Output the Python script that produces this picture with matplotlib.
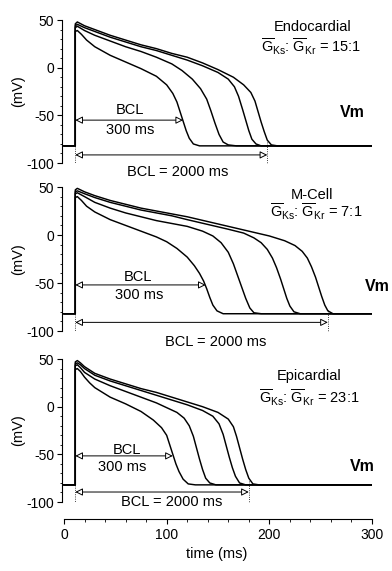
import matplotlib
matplotlib.use("Agg")
import matplotlib.pyplot as plt
from matplotlib.ticker import MultipleLocator

plt.rcParams["font.family"] = ["Liberation Sans", "DejaVu Sans"]
plt.rcParams["mathtext.fontset"] = "custom"
plt.rcParams["mathtext.rm"] = "Liberation Sans"
plt.rcParams["mathtext.it"] = "Liberation Sans"
plt.rcParams["axes.unicode_minus"] = False

REST = -82
T_STIM = 11

# four traces per panel, shortest APD (BCL 300 ms) first, longest (BCL 2000 ms) last
endo_t = [
    [0, 11, 11, 13, 17, 22, 30, 45, 60, 75, 90, 100, 106, 110, 113, 116, 119, 122, 126, 132, 300],
    [0, 11, 11, 13, 20, 30, 45, 60, 75, 90, 105, 115, 125, 133, 139, 143, 147, 151, 155, 160, 168, 300],
    [0, 11, 11, 13, 20, 30, 45, 60, 75, 90, 105, 120, 135, 150, 160, 166, 170, 174, 177, 180, 183, 187, 192, 300],
    [0, 11, 11, 13, 20, 30, 45, 60, 75, 90, 105, 120, 135, 150, 165, 175, 182, 186, 189, 192, 195, 198, 202, 208, 300],
]
endo_v = [
    [-82, -82, 38, 39, 35, 29, 22, 13, 6, -1, -9, -18, -27, -36, -46, -56, -66, -74, -80, -82, -82],
    [-82, -82, 42, 43.5, 39, 34, 28, 22, 17, 11, 4, -3, -12, -22, -33, -45, -58, -70, -78, -81, -82, -82],
    [-82, -82, 44, 45.5, 42, 38, 32, 27, 22, 18, 13, 8, 2, -5, -12, -20, -30, -44, -55, -66, -75, -80, -82, -82],
    [-82, -82, 46, 48, 44, 40, 34, 29, 24, 20, 15, 11, 5, -2, -10, -18, -26, -35, -46, -57, -67, -76, -81, -82, -82],
]

mcell_t = [
    [0, 11, 11, 13, 17, 22, 30, 45, 60, 75, 90, 100, 110, 120, 127, 132, 136, 139, 142, 145, 149, 155, 300],
    [0, 11, 11, 13, 20, 30, 45, 60, 75, 90, 105, 120, 135, 145, 153, 160, 165, 169, 173, 177, 181, 185, 192, 300],
    [0, 11, 11, 13, 20, 30, 45, 60, 75, 90, 105, 120, 140, 160, 175, 185, 192, 198, 203, 207, 211, 214, 217, 220, 224, 230, 300],
    [0, 11, 11, 13, 20, 30, 45, 60, 75, 90, 105, 120, 140, 160, 180, 200, 215, 225, 232, 237, 241, 245, 248, 251, 254, 257, 262, 300],
]
mcell_v = [
    [-82, -82, 39, 40, 36, 30, 24, 16, 10, 4, -2, -7, -14, -23, -32, -40, -48, -56, -65, -73, -79, -82, -82],
    [-82, -82, 43, 44, 40, 34, 28, 23, 19, 15, 12, 9, 4, -1, -8, -18, -30, -42, -54, -66, -76, -81, -82, -82],
    [-82, -82, 45, 46, 43, 39, 34, 30, 26, 23, 20, 16, 11, 6, 2, -3, -8, -15, -24, -34, -46, -56, -66, -74, -80, -82, -82],
    [-82, -82, 47, 48.6, 45, 41, 36, 32, 28, 25, 22, 19, 14, 9, 4, -1, -6, -11, -17, -24, -33, -44, -54, -64, -73, -79, -82, -82],
]

epi_t = [
    [0, 11, 11, 13, 16, 20, 25, 30, 45, 60, 75, 87, 95, 100, 103, 106, 109, 112, 116, 121, 128, 300],
    [0, 11, 11, 13, 16, 20, 30, 45, 60, 75, 90, 100, 110, 117, 122, 126, 129, 132, 135, 138, 142, 148, 300],
    [0, 11, 11, 13, 16, 20, 30, 45, 60, 75, 90, 105, 120, 135, 145, 151, 155, 158, 161, 164, 167, 171, 177, 300],
    [0, 11, 11, 13, 16, 20, 30, 45, 60, 75, 90, 105, 120, 135, 150, 160, 165, 168, 171, 174, 177, 180, 184, 190, 300],
]
epi_v = [
    [-82, -82, 39, 40, 37, 31, 25, 20, 10, 3, -5, -14, -22, -30, -40, -50, -60, -68, -76, -81, -82, -82],
    [-82, -82, 43, 44, 41, 36, 29, 22, 16, 10, 4, -1, -6, -12, -20, -31, -43, -55, -66, -75, -80, -82, -82],
    [-82, -82, 45, 46, 44, 40, 33, 27, 22, 17, 12, 7, 2, -4, -10, -18, -29, -41, -53, -64, -73, -80, -82, -82],
    [-82, -82, 47, 48.4, 46, 42, 35, 29, 24, 19, 15, 10, 5, 0, -6, -13, -21, -31, -43, -55, -66, -75, -81, -82, -82],
]

names = ["Endocardial", "M-Cell", "Epicardial"]
ratios = ["15:1", "7:1", "23:1"]
bcl300_end = [116, 138, 106]
bcl2000_end = [198, 257, 180]

# layout per panel (figure fractions) and annotation spots (data coords)
rects = [
    [0.158, 0.7145, 0.791, 0.2504],
    [0.158, 0.4203, 0.791, 0.2522],
    [0.158, 0.1208, 0.791, 0.2504],
]
name_xy = [(242, 42.5), (242, 41.5), (239, 32.5)]
ratio_xy = [(241, 21.5), (246, 24), (239, 9.5)]
vm_xy = [(281, -47.5), (305, -54), (291, -63)]
bcl_xy = [(64, -44), (72, -44), (61, -45)]
ms_xy = [(64, -65), (73, -62.5), (57, -63)]
bcl2000_xy = [(111, -109), (148, -111), (105, -100)]
arrow300_y = [-55, -52, -51.6]
arrow2000_y = [-91.5, -91, -89.5]

fig = plt.figure(figsize=(3.92, 5.71), dpi=100)

for i, (ts, vs) in enumerate([(endo_t, endo_v), (mcell_t, mcell_v), (epi_t, epi_v)]):
    ax = fig.add_axes(rects[i])
    for t, v in zip(ts, vs):
        ax.plot(t, v, color="black", lw=1.05, solid_joinstyle="round")

    ax.set_xlim(-2, 300)
    ax.set_ylim(-100, 50)
    ax.spines["top"].set_visible(False)
    ax.spines["right"].set_visible(False)
    ax.set_yticks([-100, -50, 0, 50])
    ax.yaxis.set_minor_locator(MultipleLocator(10))
    ax.tick_params(axis="y", which="major", length=3.5, width=0.8, labelsize=10, pad=2)
    ax.tick_params(axis="y", which="minor", length=1.8, width=0.6)
    ax.spines["left"].set_linewidth(0.8)
    ax.set_ylabel("(mV)", fontsize=10.5, labelpad=1)

    if i < 2:
        ax.spines["bottom"].set_visible(False)
        ax.set_xticks([])
    else:
        ax.spines["bottom"].set_position(("outward", 12))
        ax.spines["bottom"].set_bounds(0, 300)
        ax.spines["bottom"].set_linewidth(0.8)
        ax.set_xticks([0, 100, 200, 300])
        ax.xaxis.set_minor_locator(MultipleLocator(20))
        ax.tick_params(axis="x", which="major", length=3.5, width=0.8, labelsize=10, pad=3)
        ax.tick_params(axis="x", which="minor", length=1.8, width=0.6)
        ax.set_xlabel("time (ms)", fontsize=10.5, labelpad=4)

    # BCL arrows with open heads
    arrow = dict(arrowstyle="<|-|>", fc="white", ec="black", lw=0.7,
                 mutation_scale=11, shrinkA=0, shrinkB=0)
    ax.annotate("", xy=(T_STIM, arrow300_y[i]), xytext=(bcl300_end[i], arrow300_y[i]),
                arrowprops=arrow, annotation_clip=False)
    ax.annotate("", xy=(T_STIM, arrow2000_y[i]), xytext=(bcl2000_end[i], arrow2000_y[i]),
                arrowprops=arrow, annotation_clip=False)
    ax.plot([T_STIM, T_STIM], [REST, -100], color="black", lw=0.6, ls=":", clip_on=False)
    ax.plot([bcl2000_end[i]] * 2, [-78, -100], color="black", lw=0.6, ls=":", clip_on=False)

    ax.text(*bcl_xy[i], "BCL", ha="center", va="center", fontsize=10.5)
    ax.text(*ms_xy[i], "300 ms", ha="center", va="center", fontsize=10.5)
    ax.text(*bcl2000_xy[i], "BCL = 2000 ms", ha="center", va="center", fontsize=10.5,
            clip_on=False)
    ax.text(*name_xy[i], names[i], ha="center", va="center", fontsize=10.5)
    ax.text(*ratio_xy[i],
            r"$\overline{\mathrm{G}}_{\mathrm{Ks}}$: $\overline{\mathrm{G}}_{\mathrm{Kr}}$ = " + ratios[i],
            ha="center", va="center", fontsize=10.5)
    ax.text(*vm_xy[i], "Vm", ha="center", va="center", fontsize=11.5, fontweight="bold",
            clip_on=False)

fig.savefig("out.png", dpi=100)
